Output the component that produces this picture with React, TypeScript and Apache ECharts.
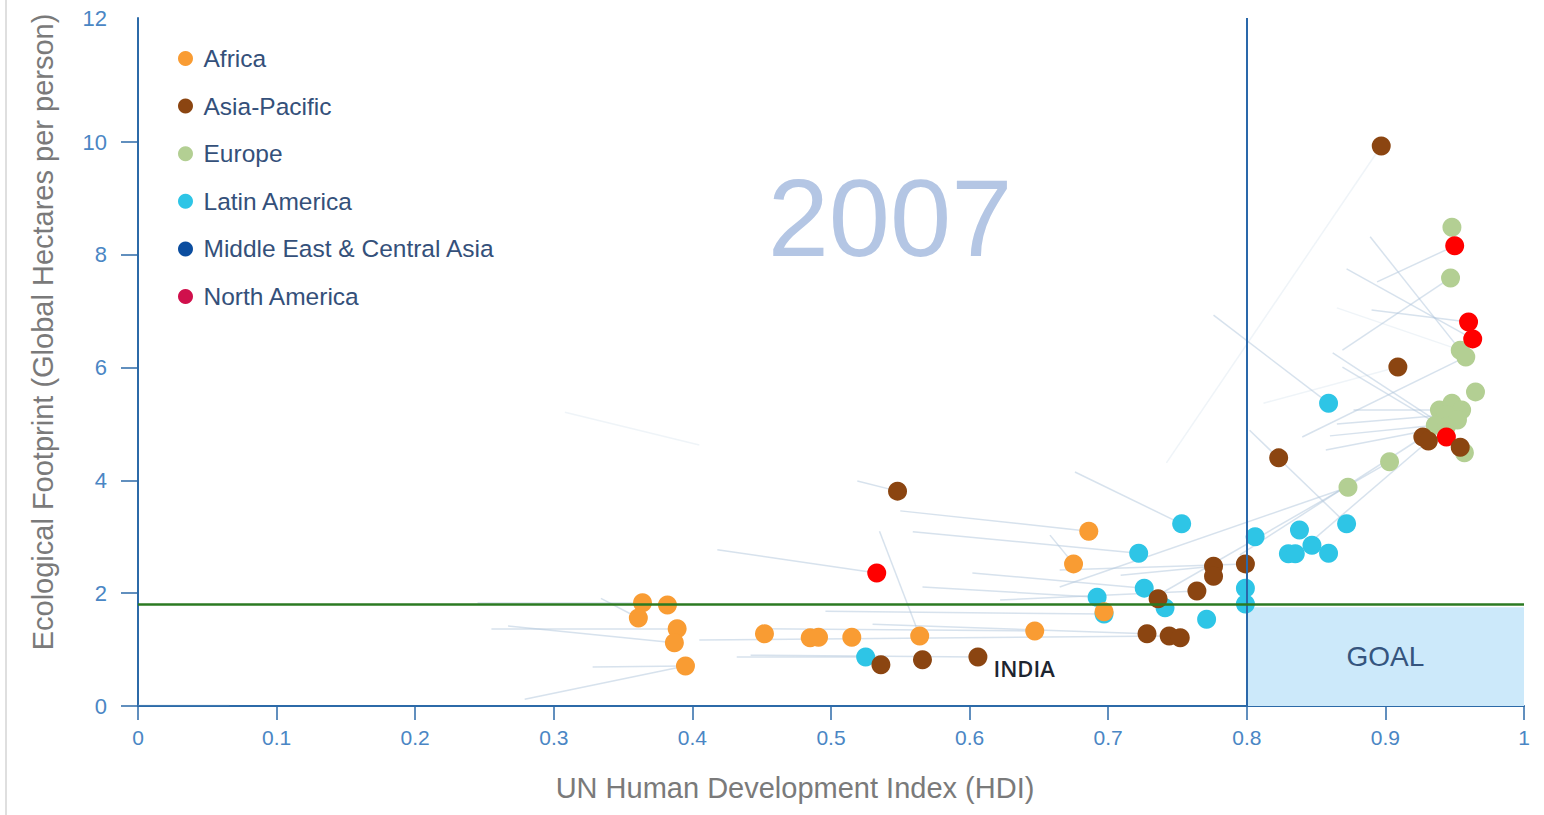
import React, { useEffect, useRef } from 'react';
import * as echarts from 'echarts';

// ---- data (HDI, Ecological footprint) ----
const regionNames = ['Africa', 'Asia-Pacific', 'Europe', 'Latin America', 'Middle East & Central Asia', 'North America'];
const legendColors = ['#f99c33', '#8b4511', '#b3cf93', '#2ec5e6', '#0b4d9f', '#d0104c'];
const pointColors = ['#f99c33', '#8b4511', '#b3cf93', '#2ec5e6', '#0b4d9f', '#ff0000'];

const africa: number[][] = [
  [0.364, 1.83], [0.361, 1.56], [0.382, 1.79], [0.389, 1.37], [0.387, 1.12], [0.395, 0.71],
  [0.452, 1.28], [0.485, 1.21], [0.491, 1.22], [0.515, 1.22], [0.564, 1.24], [0.647, 1.33],
  [0.675, 2.52], [0.686, 3.10], [0.697, 1.67],
];
const asiaPacific: number[][] = [
  [0.548, 3.81], [0.536, 0.73], [0.566, 0.82], [0.606, 0.87], [0.728, 1.28], [0.736, 1.90],
  [0.744, 1.24], [0.752, 1.21], [0.764, 2.04], [0.776, 2.48], [0.776, 2.30], [0.799, 2.52],
  [0.823, 4.40], [0.897, 9.93], [0.909, 6.01], [0.927, 4.77], [0.931, 4.70], [0.954, 4.59],
];
const indiaIndex = 3;
const europe: number[][] = [
  [0.948, 8.49], [0.947, 7.59], [0.954, 6.31], [0.958, 6.19], [0.965, 5.57], [0.939, 5.25],
  [0.948, 5.37], [0.955, 5.25], [0.944, 5.16], [0.952, 5.07], [0.936, 4.98], [0.944, 4.95],
  [0.957, 4.49], [0.903, 4.33], [0.873, 3.88],
];
const latinAmerica: number[][] = [
  [0.525, 0.87], [0.692, 1.93], [0.697, 1.63], [0.722, 2.71], [0.726, 2.09], [0.741, 1.74],
  [0.753, 3.23], [0.771, 1.54], [0.799, 2.09], [0.799, 1.81], [0.806, 3.00], [0.830, 2.70],
  [0.835, 2.70], [0.838, 3.12], [0.847, 2.85], [0.859, 2.71], [0.872, 3.23], [0.859, 5.37],
];
const middleEast: number[][] = [];
const northAmerica: number[][] = [
  [0.533, 2.36], [0.950, 8.16], [0.960, 6.81], [0.963, 6.51], [0.944, 4.77],
];

// trails: [fromHDI, fromEF, toHDI, toEF]
const trails: number[][] = [
  [0.245, 1.83, 0.364, 1.83], [0.334, 1.91, 0.361, 1.56], [0.255, 1.37, 0.389, 1.37],
  [0.267, 1.42, 0.387, 1.12], [0.328, 0.69, 0.395, 0.71], [0.279, 0.12, 0.395, 0.71],
  [0.418, 2.77, 0.533, 2.36], [0.519, 3.99, 0.548, 3.81], [0.535, 3.10, 0.564, 1.24],
  [0.432, 0.87, 0.525, 0.87], [0.550, 3.46, 0.686, 3.10], [0.658, 3.03, 0.675, 2.52],
  [0.676, 4.15, 0.753, 3.23], [0.776, 6.93, 0.859, 5.37], [0.869, 6.31, 0.947, 7.59],
  [0.894, 7.52, 0.950, 8.16], [0.890, 7.02, 0.960, 6.81], [0.872, 7.75, 0.963, 6.51],
  [0.889, 8.32, 0.954, 6.31], [0.840, 4.77, 0.958, 6.19], [0.862, 6.26, 0.947, 4.89],
  [0.869, 6.01, 0.939, 4.98], [0.877, 5.25, 0.939, 5.25], [0.865, 5.00, 0.944, 5.16],
  [0.860, 4.79, 0.936, 4.98], [0.857, 4.54, 0.944, 4.95], [0.802, 4.89, 0.872, 3.23],
  [0.665, 2.11, 0.873, 3.88], [0.730, 1.88, 0.903, 4.33], [0.795, 2.68, 0.927, 4.77],
  [0.831, 2.59, 0.931, 4.70], [0.566, 2.11, 0.692, 1.93], [0.496, 1.68, 0.697, 1.63],
  [0.530, 1.45, 0.728, 1.28], [0.602, 2.36, 0.726, 2.09], [0.559, 3.09, 0.722, 2.71],
  [0.449, 1.37, 0.647, 1.33], [0.405, 1.17, 0.744, 1.24], [0.442, 0.90, 0.606, 0.87],
  [0.622, 1.88, 0.764, 2.04], [0.709, 2.32, 0.776, 2.48], [0.665, 2.41, 0.799, 2.52],
];
const faintTrails: number[][] = [
  [0.308, 5.21, 0.405, 4.63], [0.742, 4.31, 0.897, 9.93], [0.812, 5.37, 0.909, 6.01],
  [0.865, 7.06, 0.954, 6.31], [0.0, 0.02, 0.066, 0.02],
];

const yearLabel = '2007';
const goalHDI = 0.8;
const goalFootprint = 1.8;
const goalAreaTop = 1.75;
const yTickValues = [0, 2, 4, 6, 8, 10];
const yLabelValues = [0, 2, 4, 6, 8, 10, 12.2];
const yMax = 12.2;

export default function App() {
  const ref = useRef<HTMLDivElement>(null);
  useEffect(() => {
    if (!ref.current) return;
    const chart = echarts.init(ref.current, undefined, { renderer: 'svg' });
    const regionData = [africa, asiaPacific, europe, latinAmerica, middleEast, northAmerica];
    const axisColor = '#2c6aa8';
    const labelColor = '#4a86c4';
    const toLines = (arr: number[][]) => arr.map((t) => ({ coords: [[t[0], t[1]], [t[2], t[3]]] }));
    const scatterOrder = [2, 5, 3, 0, 1, 4];
    const option: any = {
      animation: false,
      grid: { left: 138, right: 20, top: 18, bottom: 109 },
      legend: {
        orient: 'vertical',
        left: 178,
        top: 46,
        padding: 0,
        itemWidth: 26,
        itemHeight: 15,
        itemGap: 22.6,
        icon: 'circle',
        selectedMode: false,
        data: regionNames.map((n, i) => ({ name: n, itemStyle: { color: legendColors[i] } })),
        textStyle: { fontSize: 24.5, color: '#34507a', fontFamily: 'Liberation Sans, Arial, sans-serif' },
      },
      xAxis: {
        type: 'value', min: 0, max: 1, interval: 0.1,
        name: 'UN Human Development Index (HDI)', nameLocation: 'middle', nameGap: 67,
        nameTextStyle: { fontSize: 29, color: '#7a7a7a', fontFamily: 'Liberation Sans, Arial, sans-serif', padding: [0, 72, 0, 0] },
        axisLine: { lineStyle: { color: axisColor, width: 2 } },
        axisTick: { length: 14, lineStyle: { color: axisColor, width: 1.5 } },
        axisLabel: { color: labelColor, fontSize: 21, margin: 21, fontFamily: 'Liberation Sans Narrow, Arial Narrow, Liberation Sans, sans-serif' },
        splitLine: { show: false },
      },
      yAxis: {
        type: 'value', min: 0, max: yMax,
        name: 'Ecological Footprint (Global Hectares per person)', nameLocation: 'middle', nameGap: 81,
        nameTextStyle: { fontSize: 29, color: '#7a7a7a', fontFamily: 'Liberation Sans, Arial, sans-serif', padding: [0, 0, 0, 60] },
        axisLine: { show: true, lineStyle: { color: axisColor, width: 2 } },
        axisTick: { show: true, length: 17, customValues: yTickValues, lineStyle: { color: axisColor, width: 1.5 } },
        axisLabel: {
          color: labelColor, fontSize: 22, margin: 31, customValues: yLabelValues,
          fontFamily: 'Liberation Sans, Arial, sans-serif',
          formatter: (v: number) => (v > 12 ? '12' : String(v)),
        },
        splitLine: { show: false },
      },
      graphic: [
        { type: 'line', shape: { x1: 6, y1: 0, x2: 6, y2: 815 }, style: { stroke: '#d4d4d4', lineWidth: 1.5 }, silent: true },
        {
          type: 'text', x: 890, y: 217, z: 0,
          style: { text: yearLabel, fill: '#b4c6e4', fontSize: 110, fontFamily: 'Liberation Sans, Arial, sans-serif', textAlign: 'center', textVerticalAlign: 'middle' },
          silent: true,
        },
      ],
      series: [
        {
          name: 'goal', type: 'line', data: [], z: 1, silent: true,
          markArea: {
            silent: true,
            itemStyle: { color: '#cce9fa' },
            label: { show: true, position: 'inside', color: '#35557e', fontSize: 28, fontFamily: 'Liberation Sans, Arial, sans-serif' },
            data: [[{ name: 'GOAL', coord: [goalHDI, 0] }, { coord: [1, goalAreaTop] }]],
          },
          markLine: {
            silent: true, symbol: 'none', label: { show: false },
            data: [
              { xAxis: goalHDI, lineStyle: { color: '#2a68aa', width: 2, type: 'solid' } },
              { yAxis: goalFootprint, lineStyle: { color: '#2b7a22', width: 2.5, type: 'solid' } },
            ],
          },
        },
        {
          name: 'trails', type: 'lines', coordinateSystem: 'cartesian2d', z: 2, silent: true,
          lineStyle: { color: '#b0c6dc', width: 1.5, opacity: 0.5 },
          data: toLines(trails),
        },
        {
          name: 'faintTrails', type: 'lines', coordinateSystem: 'cartesian2d', z: 2, silent: true,
          lineStyle: { color: '#b0c6dc', width: 1.5, opacity: 0.2 },
          data: toLines(faintTrails),
        },
        ...scatterOrder.map((i) => ({
          name: regionNames[i],
          type: 'scatter',
          z: 3,
          symbolSize: 19,
          itemStyle: { color: pointColors[i], opacity: 1 },
          data: regionData[i].map((p, j) =>
            i === 1 && j === indiaIndex
              ? {
                  value: p,
                  label: {
                    show: true, formatter: 'INDIA', position: [25, 21], align: 'left', verticalAlign: 'middle',
                    fontSize: 22, fontWeight: 600, color: '#1d2530', fontFamily: 'Open Sans, Liberation Sans, sans-serif',
                  },
                }
              : p
          ),
        })),
      ],
    };
    chart.setOption(option);
    return () => chart.dispose();
  }, []);
  return <div ref={ref} style={{ position: 'fixed', left: 0, top: 0, width: 1544, height: 815, background: '#fff' }} />;
}
